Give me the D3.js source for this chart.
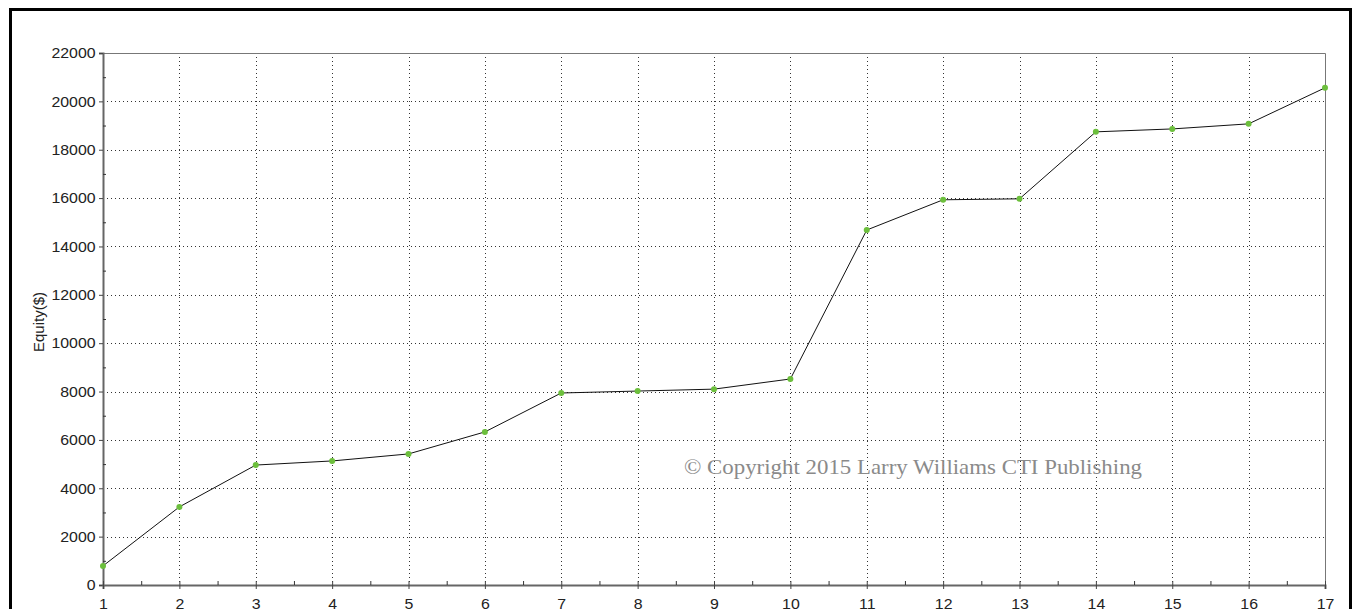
<!DOCTYPE html>
<html>
<head>
<meta charset="utf-8">
<script src="https://cdn.jsdelivr.net/npm/d3@7"></script>
<style>
  html, body { margin: 0; padding: 0; background: #fff; overflow: hidden; }
  svg { display: block; }
</style>
</head>
<body>
<svg id="chart" width="1356" height="609"></svg>
<script>
// Data
const trades = [1, 2, 3, 4, 5, 6, 7, 8, 9, 10, 11, 12, 13, 14, 15, 16, 17];
const equity = [790, 3230, 4960, 5130, 5420, 6330, 7940, 8020, 8100, 8520, 14680, 15930, 15970, 18740, 18860, 19070, 20560];
const yTicks = [0, 2000, 4000, 6000, 8000, 10000, 12000, 14000, 16000, 18000, 20000, 22000];
const yLabel = 'Equity($)';
const watermark = '\u00A9 Copyright 2015 Larry Williams CTI Publishing';

const svg = d3.select('#chart');
const plot = { left: 103, right: 1325, top: 53, bottom: 585 };
const sans = 'Liberation Sans, Arial, sans-serif';

// outer frame
svg.append('rect')
    .attr('x', 10.5).attr('y', 9.5)
    .attr('width', 1340).attr('height', 620)
    .attr('fill', 'none').attr('stroke', '#000').attr('stroke-width', 3);

const x = d3.scaleLinear().domain([1, 17]).range([plot.left, plot.right]);
const y = d3.scaleLinear().domain([0, 22000]).range([plot.bottom, plot.top]);

// grid
const grid = svg.append('g');
grid.selectAll('.gx')
    .data(trades.slice(1, -1))
    .enter().append('line')
    .attr('x1', d => Math.round(x(d)) + 0.5).attr('x2', d => Math.round(x(d)) + 0.5)
    .attr('y1', plot.top).attr('y2', plot.bottom)
    .attr('stroke', '#333').attr('stroke-width', 1).attr('stroke-dasharray', '1,3');
grid.selectAll('.gy')
    .data(yTicks.slice(1, -1))
    .enter().append('line')
    .attr('x1', plot.left).attr('x2', plot.right)
    .attr('y1', d => Math.round(y(d)) + 0.5).attr('y2', d => Math.round(y(d)) + 0.5)
    .attr('stroke', '#333').attr('stroke-width', 1).attr('stroke-dasharray', '1,3');

// plot box (top and right)
svg.append('path')
    .attr('d', `M${plot.left},${plot.top + 0.5}H${plot.right + 0.5}V${plot.bottom}`)
    .attr('fill', 'none').attr('stroke', '#777').attr('stroke-width', 1);

// y axis
const yAxis = svg.append('g')
    .attr('transform', `translate(${plot.left},0)`)
    .call(d3.axisLeft(y).tickValues(yTicks).tickFormat(d3.format('d')).tickSize(4).tickPadding(3));
yAxis.select('.domain').attr('stroke', '#666').attr('stroke-width', 2);
yAxis.selectAll('.tick line').attr('stroke', '#444');
yAxis.selectAll('text')
    .attr('font-family', sans)
    .attr('font-size', 15).attr('fill', '#222')
    .attr('transform', 'scale(1.06,1)');
// minor y ticks
svg.append('g')
    .attr('transform', `translate(${plot.left},0)`)
    .call(d3.axisLeft(y).tickValues(d3.range(1000, 22000, 2000)).tickFormat('').tickSize(3))
    .call(g => g.select('.domain').remove())
    .selectAll('.tick line').attr('stroke', '#333').attr('x2', 3);

// x axis
const xAxis = svg.append('g')
    .attr('transform', `translate(0,${plot.bottom})`)
    .call(d3.axisBottom(x).tickValues(trades).tickFormat(d3.format('d')).tickSize(4).tickPadding(9));
xAxis.select('.domain').attr('stroke', '#666').attr('stroke-width', 2);
xAxis.selectAll('.tick line').attr('stroke', '#444').attr('y1', -4).attr('y2', 4);
xAxis.selectAll('text')
    .attr('font-family', sans)
    .attr('font-size', 15).attr('fill', '#222')
    .attr('transform', 'scale(1.06,1)');
// minor x ticks
svg.append('g')
    .attr('transform', `translate(0,${plot.bottom})`)
    .call(d3.axisBottom(x).tickValues(trades.slice(0, -1).map(d => d + 0.5)).tickFormat('').tickSize(4))
    .call(g => g.select('.domain').remove())
    .selectAll('.tick line').attr('stroke', '#333').attr('y1', -4).attr('y2', 0);

// y label
svg.append('text')
    .attr('transform', `translate(44,${(plot.top + plot.bottom) / 2 + 3}) rotate(-90)`)
    .attr('text-anchor', 'middle')
    .attr('font-family', sans)
    .attr('font-size', 15).attr('fill', '#222')
    .text(yLabel);

// watermark
svg.append('text')
    .attr('x', 684).attr('y', 474)
    .attr('font-family', 'Liberation Serif, Times New Roman, serif')
    .attr('font-size', 22).attr('fill', '#8a8a8a')
    .attr('textLength', 458).attr('lengthAdjust', 'spacingAndGlyphs')
    .text(watermark);

// line
const line = d3.line().x((d, i) => x(trades[i])).y(d => y(d));
svg.append('path')
    .datum(equity)
    .attr('d', line)
    .attr('fill', 'none').attr('stroke', '#111').attr('stroke-width', 1);

// points
svg.selectAll('.pt')
    .data(equity)
    .enter().append('circle')
    .attr('cx', (d, i) => x(trades[i]))
    .attr('cy', d => y(d))
    .attr('r', 3)
    .attr('fill', '#6cbf3c');
</script>
</body>
</html>
